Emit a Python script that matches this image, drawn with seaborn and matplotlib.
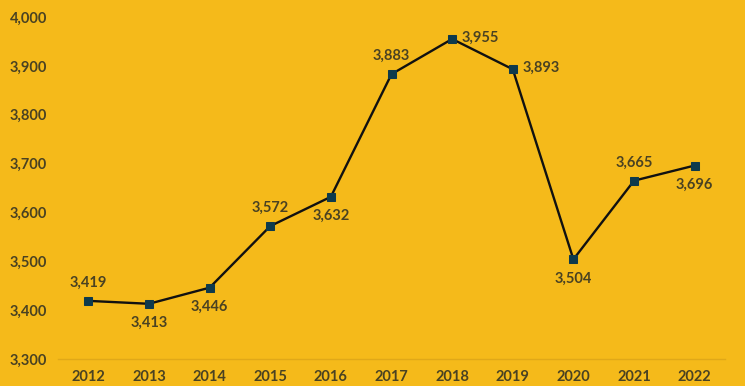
import matplotlib
matplotlib.use("Agg")
import matplotlib.pyplot as plt
import seaborn as sns
import pandas as pd

years = ["2012", "2013", "2014", "2015", "2016", "2017", "2018", "2019", "2020", "2021", "2022"]
values = [3419, 3413, 3446, 3572, 3632, 3883, 3955, 3893, 3504, 3665, 3696]
label_pos = ["above", "below", "below", "above", "below", "above", "right", "right", "below", "above", "below"]

bg = "#F5BA1A"
text_c = "#4A4222"
sns.set_theme(style="white")
plt.rcParams["font.family"] = ["Lato", "DejaVu Sans"]

df = pd.DataFrame({"x": range(len(years)), "value": values})

fig = plt.figure(figsize=(7.45, 3.86), dpi=100, facecolor=bg)
ax = fig.add_axes([58 / 745, 27 / 386, 667 / 745, 342 / 386])
ax.set_facecolor(bg)

sns.lineplot(data=df, x="x", y="value", ax=ax, color="#111111", linewidth=1.7,
             marker="s", markersize=6, markerfacecolor="#0E3A4C",
             markeredgecolor="#0E3A4C", zorder=3)

for i, (v, p) in enumerate(zip(values, label_pos)):
    if p == "above":
        off, ha, va = (0, 8), "center", "bottom"
    elif p == "below":
        off, ha, va = (0, -9), "center", "top"
    else:
        off, ha, va = (7, 1), "left", "center"
    ax.annotate(f"{v:,}", (i, v), xytext=off, textcoords="offset points",
                ha=ha, va=va, fontsize=10.5, fontweight="bold", color=text_c)

ax.set_xlim(-0.5, len(years) - 0.5)
ax.set_ylim(3300, 4000)
ax.set_xticks(range(len(years)))
ax.set_xticklabels(years)
yt = list(range(3300, 4001, 100))
ax.set_yticks(yt)
ax.set_yticklabels([f"{t:,}" for t in yt])
ax.tick_params(axis="both", length=0, labelsize=10.5, labelcolor=text_c, pad=8)
for lab in ax.get_xticklabels() + ax.get_yticklabels():
    lab.set_fontweight("bold")
ax.set_xlabel("")
ax.set_ylabel("")
for s in ["top", "right", "left"]:
    ax.spines[s].set_visible(False)
ax.spines["bottom"].set_color("#E0A818")
ax.spines["bottom"].set_linewidth(1)
ax.grid(False)

fig.savefig("out.png", dpi=100, facecolor=bg)
